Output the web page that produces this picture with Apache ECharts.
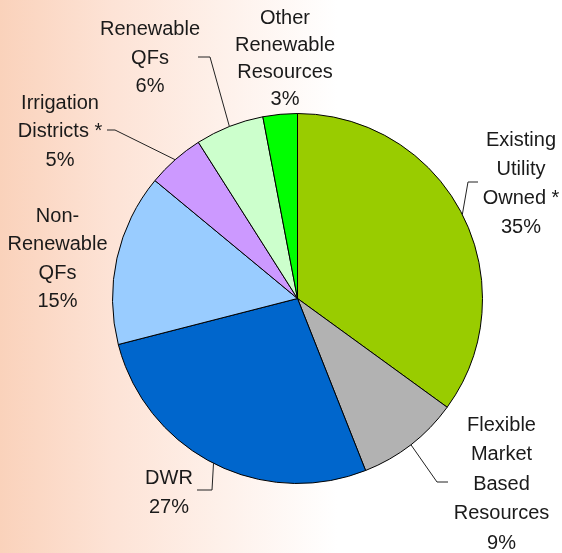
<!DOCTYPE html>
<html>
<head>
<meta charset="utf-8">
<script src="https://cdn.jsdelivr.net/npm/echarts@6/dist/echarts.min.js"></script>
<style>
html,body{margin:0;padding:0;}
#chart{width:562px;height:553px;}
</style>
</head>
<body>
<div id="chart"></div>
<script>
// ---- data ----
var categories = [
  'Existing\nUtility\nOwned *',
  'Flexible\nMarket\nBased\nResources',
  'DWR',
  'Non-\nRenewable\nQFs',
  'Irrigation\nDistricts *',
  'Renewable\nQFs',
  'Other\nRenewable\nResources'
];
var shares = [35, 9, 27, 15, 5, 6, 3];
var sliceColors = ['#99CC00', '#B2B2B2', '#0066CC', '#99CCFF', '#CC99FF', '#CCFFCC', '#00FF00'];

// ---- layout (label centres, leader elbows/ends relative to label centre) ----
var CX = 297.5, CY = 298.5, R = 185;
var labelPos = [[521, 184], [501.5, 484], [169, 493], [57.5, 259], [60, 131.5], [150, 58], [285, 59]];
var labelLH = [29, 29.5, 29, 28.5, 28.5, 28.5, 27.3];
var leader = [
  [[-53, -2], [-43, -2]],
  [[-64.5, -2], [-53.5, -2]],
  [[43, -3], [28, -3]],
  null,
  [[55, -1.5], [47, -1.5]],
  [[60, -1], [48, -1]],
  null
];

var total = shares.reduce(function (a, b) { return a + b; }, 0);
function edgePoint(i) {
  var before = 0;
  for (var k = 0; k < i; k++) before += shares[k];
  var mid = 90 - (before + shares[i] / 2) / total * 360;
  var rad = mid * Math.PI / 180;
  return [CX + R * Math.cos(rad), CY - R * Math.sin(rad)];
}

var chart = echarts.init(document.getElementById('chart'), null, {renderer: 'canvas'});
chart.setOption({
  backgroundColor: {
    type: 'linear', x: 0, y: 0, x2: 1, y2: 0,
    colorStops: [
      {offset: 0, color: '#FAD2BB'},
      {offset: 0.2, color: '#FDE3D6'},
      {offset: 0.6, color: '#FFFFFF'},
      {offset: 1, color: '#FFFFFF'}
    ]
  },
  animation: false,
  series: [{
    type: 'pie',
    center: [CX, CY],
    radius: R,
    startAngle: 90,
    clockwise: true,
    avoidLabelOverlap: false,
    data: categories.map(function (c, i) {
      return {
        name: c,
        value: shares[i],
        itemStyle: {color: sliceColors[i]},
        label: {lineHeight: labelLH[i]},
        labelLine: {show: leader[i] !== null}
      };
    }),
    itemStyle: {borderColor: '#000', borderWidth: 1},
    label: {
      show: true,
      position: 'outside',
      formatter: '{b}\n{c}%',
      fontFamily: '"Liberation Sans", Arial, sans-serif',
      fontSize: 20,
      lineHeight: 29,
      color: '#1a1a1a',
      align: 'center'
    },
    labelLine: {show: true, lineStyle: {color: '#222', width: 1}},
    emphasis: {disabled: true},
    labelLayout: function (params) {
      var i = params.dataIndex;
      var p = labelPos[i];
      var out = {x: p[0], y: p[1], align: 'center', verticalAlign: 'middle'};
      if (leader[i]) {
        out.labelLinePoints = [
          edgePoint(i),
          [p[0] + leader[i][0][0], p[1] + leader[i][0][1]],
          [p[0] + leader[i][1][0], p[1] + leader[i][1][1]]
        ];
      }
      return out;
    }
  }]
});
</script>
</body>
</html>
